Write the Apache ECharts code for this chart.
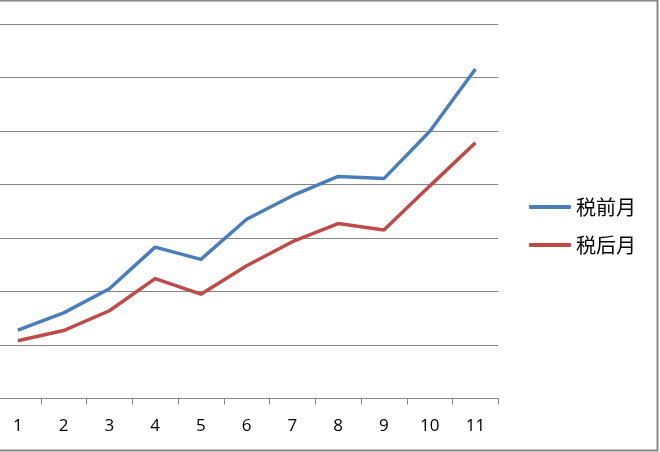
<!DOCTYPE html>
<html><head><meta charset="utf-8">
<script src="https://cdn.jsdelivr.net/npm/echarts@6/dist/echarts.min.js"></script>
<style>html,body{margin:0;padding:0;background:#fff;overflow:hidden}#c{position:absolute;left:-5px;top:0;width:665px;height:452px}</style>
</head><body><div id="c"></div>
<script>
var categories = ['1','2','3','4','5','6','7','8','9','10','11'];
var preTax = [1.28, 1.60, 2.05, 2.83, 2.60, 3.35, 3.79, 4.15, 4.11, 4.99, 6.16];
var afterTax = [1.08, 1.27, 1.64, 2.24, 1.95, 2.48, 2.93, 3.27, 3.15, 3.97, 4.78];
var seriesNames = ['税前月', '税后月'];

var chart = echarts.init(document.getElementById('c'), null, {renderer: 'canvas'});
chart.setOption({
  animation: false,
  backgroundColor: '#ffffff',
  grid: {left: 0, right: 161.7, top: 24, bottom: 53.5, containLabel: false},
  legend: {
    orient: 'vertical', left: 529, top: 192,
    icon: 'roundRect',
    itemWidth: 42, itemHeight: 4, itemGap: 18,
    textStyle: {fontSize: 20, color: '#000', fontFamily: 'Noto Sans CJK SC'},
    data: seriesNames
  },
  xAxis: {
    type: 'category', data: categories, boundaryGap: true,
    axisLine: {lineStyle: {color: '#868686', width: 1}},
    axisTick: {show: true, length: 6, lineStyle: {color: '#868686'}},
    axisLabel: {fontSize: 17, color: '#000', margin: 19, fontFamily: 'Open Sans'}
  },
  yAxis: {
    type: 'value', min: 0, max: 7, interval: 1,
    axisLine: {show: false}, axisTick: {show: false}, axisLabel: {show: false},
    splitLine: {lineStyle: {color: '#868686', width: 1}}
  },
  series: [
    {name: seriesNames[0], type: 'line', data: preTax, symbol: 'none',
     lineStyle: {color: '#4A7EBB', width: 3.5}, itemStyle: {color: '#4A7EBB'}},
    {name: seriesNames[1], type: 'line', data: afterTax, symbol: 'none',
     lineStyle: {color: '#BE4B48', width: 3.5}, itemStyle: {color: '#BE4B48'}}
  ],
  graphic: [{
    type: 'rect', silent: true, z: 100,
    shape: {x: -10, y: 0.5, width: 672.5, height: 450},
    style: {fill: 'none', stroke: '#898989', lineWidth: 2}
  }]
});
</script></body></html>
